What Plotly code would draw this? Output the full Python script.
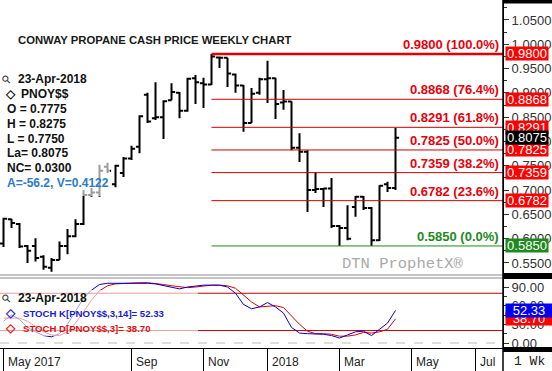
import pandas as pd
import plotly.graph_objects as go

# ---------------- data ----------------
dates = pd.date_range("2017-05-15", "2018-04-23", freq="7D")
opens = [.590, .640, .630, .585, .585, .563, .540, .556, .585, .605,
         .630, .690, .695, .748, .712, .735, .765, .789, .896, .848,
         .850, .885, .900, .863, .930, .920, .917, .973, .972, .938,
         .915, .838, .900, .928, .930, .880, .882, .787, .779, .700,
         .702, .703, .626, .622, .665, .686, .663, .597, .712, .704]
highs = [.643, .641, .632, .587, .601, .566, .560, .594, .620, .640,
         .700, .704, .752, .756, .752, .768, .791, .854, .900, .922,
         .885, .920, .902, .931, .937, .931, .980, .975, .972, .940,
         .916, .910, .931, .966, .931, .906, .883, .817, .782, .737,
         .704, .725, .628, .669, .688, .688, .665, .710, .717, .8275]
lows = [.583, .622, .581, .550, .553, .536, .532, .556, .568, .603,
        .628, .686, .686, .735, .706, .727, .762, .776, .838, .844,
        .805, .885, .848, .861, .877, .869, .916, .951, .912, .900,
        .820, .838, .896, .879, .846, .865, .782, .758, .655, .694,
        .665, .622, .585, .597, .645, .659, .585, .595, .696, .700]
closes = [.641, .632, .584, .575, .560, .542, .556, .585, .605, .630,
          .690, .695, .740, .740, .750, .765, .785, .852, .841, .850,
          .883, .902, .863, .929, .922, .917, .975, .972, .940, .915,
          .838, .898, .928, .930, .877, .882, .787, .779, .700, .702,
          .703, .626, .622, .600, .686, .663, .597, .709, .704, .8075]
stoch_k = [35, 45, 38, 25, 18, 12, 10, 15, 30, 50,
           72, 85, 94, 96, 96, 97, 97, 97, 96, 95,
           92, 90, 87, 90, 92, 93, 93, 93, 90, 80,
           62, 55, 58, 65, 58, 48, 25, 16, 15, 15,
           14, 12, 8, 13, 18, 19, 12, 22, 32, 52.33]
stoch_d = [40, 40, 40, 35, 27, 18, 13, 12, 18, 32,
           50, 69, 84, 92, 95, 96, 97, 97, 97, 96,
           94, 92, 90, 89, 90, 92, 93, 93, 92, 88,
           77, 66, 58, 59, 60, 57, 44, 30, 19, 15,
           15, 14, 11, 11, 13, 17, 16, 18, 22, 38.70]

fib_levels = [0.9800, 0.8868, 0.8291, 0.7825, 0.7359, 0.6782, 0.5850]
fib_pcts = ["100.0%", "76.4%", "61.8%", "50.0%", "38.2%", "23.6%", "0.0%"]
fib_start = "2017-11-13"
last_price = 0.8075
stoch_levels = [80, 20]

price_ticks = [0.55, 0.60, 0.65, 0.70, 0.75, 0.80, 0.85, 0.90, 0.95, 1.00, 1.05]
stoch_ticks = [0, 30, 60, 90]
month_ticks = ["2017-05-15", "2017-09-04", "2017-11-06", "2018-01-01",
               "2018-03-05", "2018-05-07", "2018-07-02"]
month_labels = ["May 2017", "Sep", "Nov", "2018", "Mar", "May", "Jul"]

legend_lines = ["O = 0.7775", "H = 0.8275", "L = 0.7750", "La= 0.8075", "NC= 0.0300"]
legend_date = "23-Apr-2018"
symbol = "PNOY$$"
k_label = "STOCH K[PNOY$$,3,14]= 52.33"
d_label = "STOCH D[PNOY$$,3]= 38.70"

# ---------------- layout helpers ----------------
W, H = 552, 371
PW = 503          # plot width (px)
TOP, BOT = 3, 348  # plot area top/bottom (px)
PH = BOT - TOP

def ax(xp):
    return xp / PW

def ay(yp):
    return (BOT - yp) / PH

last = dates[-1]
x_start = last - pd.Timedelta(days=395.5 * 7 / 8)
x_end = last + pd.Timedelta(days=(PW - 395.5) * 7 / 8)

FONT = "Liberation Sans, Arial, sans-serif"
RED = "#e8000b"
GREEN = "#1e8a1e"

fig = go.Figure()

fig.add_trace(go.Ohlc(
    x=dates, open=opens, high=highs, low=lows, close=closes,
    increasing=dict(line=dict(color="black", width=2)),
    decreasing=dict(line=dict(color="black", width=2)),
    tickwidth=0.45, xaxis="x", yaxis="y", showlegend=False, hoverinfo="skip"))

for lvl in fib_levels:
    col = GREEN if lvl == fib_levels[-1] else ("#e00000" if lvl == fib_levels[0] else "#cc0000")
    w = 2.5 if lvl == fib_levels[0] else 1
    fig.add_trace(go.Scatter(x=[pd.Timestamp(fib_start), x_end], y=[lvl, lvl], mode="lines",
                             line=dict(color=col, width=w), xaxis="x", yaxis="y",
                             showlegend=False, hoverinfo="skip"))

for lv in stoch_levels:
    fig.add_trace(go.Scatter(x=[x_start, x_end], y=[lv, lv], mode="lines",
                             line=dict(color="#c00000", width=1), xaxis="x2", yaxis="y2",
                             showlegend=False, hoverinfo="skip"))
fig.add_trace(go.Scatter(x=[x_start, x_end], y=[0, 0], mode="lines",
                         line=dict(color="#bbbbbb", width=1, dash="dash"), xaxis="x2", yaxis="y2",
                         showlegend=False, hoverinfo="skip"))
fig.add_trace(go.Scatter(x=dates, y=stoch_d, mode="lines", line=dict(color="#e00000", width=1),
                         xaxis="x2", yaxis="y2", showlegend=False, hoverinfo="skip"))
fig.add_trace(go.Scatter(x=dates, y=stoch_k, mode="lines", line=dict(color="#0000cc", width=1),
                         xaxis="x2", yaxis="y2", showlegend=False, hoverinfo="skip"))

ann = []

def txt(x, y, s, size=12, color="#111", bold=True, xanchor="left", family=FONT, **kw):
    if bold:
        s = "<b>" + s + "</b>"
    d = dict(x=ax(x), y=ay(y), xref="paper", yref="paper", text=s, showarrow=False,
             xanchor=xanchor, yanchor="middle", font=dict(size=size, color=color, family=family))
    d.update(kw)
    ann.append(d)

# title
txt(16, 40, "CONWAY PROPANE CASH PRICE WEEKLY CHART", size=11.3, color="#1a1a1a")
# main legend
txt(6, 79, "⚲", size=11, color="#333", bold=False, xanchor="center", textangle=-45)
txt(16, 79, legend_date)
txt(10, 94, "◇", size=12, color="#111", bold=True, xanchor="center")
txt(19, 94, symbol)
for i, s in enumerate(legend_lines):
    txt(5, 109 + i * 14.8, s)
txt(5, 183, "A=-56.2, V=0.4122", color="#2a7cc7")
# lower legend
txt(6, 298, "⚲", size=11, color="#333", bold=False, xanchor="center", textangle=-45)
txt(16, 298, legend_date)
txt(10, 313, "◇", color="#1a1ad0", xanchor="center")
txt(21, 313, k_label, color="#1a1ad0", size=9.6, bold=True)
txt(10, 328, "◇", color="#e01010", xanchor="center")
txt(21, 328, d_label, color="#e01010", size=9.6, bold=True)
# watermark
txt(466, 264, "DTN ProphetX®", size=15.5, color="#a9a9a9", bold=False, xanchor="right",
    family="Liberation Mono, Courier New, monospace")
# 1 Wk
txt(529, 362, "1 Wk", size=13, color="#222", bold=False, xanchor="center",
    family="Liberation Mono, Courier New, monospace")

# month labels
for d, lab in zip(month_ticks, month_labels):
    ann.append(dict(x=d, xref="x2", y=ay(362), yref="paper", text=lab, showarrow=False,
                    xanchor="left", yanchor="middle", xshift=2,
                    font=dict(size=12, color="#222", family=FONT)))

# fib labels
for lvl, pct in zip(fib_levels, fib_pcts):
    col = GREEN if lvl == fib_levels[-1] else RED
    ann.append(dict(x=ax(501), xref="paper", y=lvl, yref="y", text=f"<b>{lvl:.4f} ({pct})</b>",
                    showarrow=False, xanchor="right", yanchor="bottom", yshift=0,
                    font=dict(size=13, color=col, family=FONT)))

# right-axis value boxes
for lvl in fib_levels:
    col = "#1e8a1e" if lvl == fib_levels[-1] else "#ff0000"
    ann.append(dict(x=ax(505), xref="paper", y=lvl, yref="y", text=f"{lvl:.4f}",
                    showarrow=False, xanchor="left", yanchor="middle", width=42, height=13,
                    bgcolor=col, borderpad=0, font=dict(size=13, color="white", family=FONT)))
ann.append(dict(x=ax(505), xref="paper", y=last_price, yref="y", text=f"{last_price:.4f}",
                showarrow=False, xanchor="left", yanchor="middle", width=42, height=13,
                bgcolor="black", borderpad=0, font=dict(size=13, color="white", family=FONT)))
ann.append(dict(x=ax(505), xref="paper", y=stoch_d[-1], yref="y2", text=f"{stoch_d[-1]:.2f}",
                showarrow=False, xanchor="left", yanchor="middle", width=46, height=13,
                bgcolor="#ff0000", borderpad=0, font=dict(size=13, color="white", family=FONT)))
ann.append(dict(x=ax(505), xref="paper", y=stoch_k[-1], yref="y2", text=f"{stoch_k[-1]:.2f}",
                showarrow=False, xanchor="left", yanchor="middle", width=46, height=13,
                bgcolor="#0000ee", borderpad=0, font=dict(size=13, color="white", family=FONT)))

shapes = [
    # legend backgrounds
    dict(type="rect", xref="paper", yref="paper", x0=0, x1=ax(110), y0=ay(196), y1=ay(70),
         fillcolor="rgba(255,255,255,0.62)", line=dict(width=0), layer="above"),
    dict(type="rect", xref="paper", yref="paper", x0=0, x1=ax(198), y0=ay(336), y1=ay(290),
         fillcolor="rgba(255,255,255,0.62)", line=dict(width=0), layer="above"),
    # panel separator double line
    dict(type="line", xref="paper", yref="paper", x0=0, x1=1, y0=ay(275), y1=ay(275),
         line=dict(color="#888", width=1)),
    dict(type="line", xref="paper", yref="paper", x0=0, x1=1, y0=ay(278), y1=ay(278),
         line=dict(color="#888", width=1)),
    # black bars in right strip
    dict(type="rect", xref="paper", yref="paper", x0=1, x1=ax(552), y0=ay(3.5), y1=ay(0),
         fillcolor="black", line=dict(width=0)),
    dict(type="rect", xref="paper", yref="paper", x0=1, x1=ax(552), y0=ay(279), y1=ay(273),
         fillcolor="black", line=dict(width=0)),
    dict(type="rect", xref="paper", yref="paper", x0=1, x1=ax(552), y0=ay(352), y1=ay(347),
         fillcolor="black", line=dict(width=0)),
    # vertical divider
    dict(type="line", xref="paper", yref="paper", x0=1, x1=1, y0=ay(371), y1=ay(0),
         line=dict(color="black", width=1.5)),
]

axis_font = dict(size=13, color="#333", family=FONT)
fig.update_layout(
    width=W, height=H, margin=dict(l=0, r=W - PW, t=TOP, b=H - BOT),
    paper_bgcolor="white", plot_bgcolor="white", showlegend=False,
    xaxis=dict(range=[x_start, x_end], domain=[0, 1], anchor="y", showticklabels=False,
               ticks="", showgrid=False, zeroline=False, showline=False,
               rangeslider=dict(visible=False)),
    xaxis2=dict(range=[x_start, x_end], domain=[0, 1], anchor="y2", matches="x",
                tickvals=month_ticks, showticklabels=False, ticks="outside", ticklen=H - BOT,
                tickcolor="black", tickwidth=1, showgrid=False, zeroline=False,
                showline=True, linecolor="black", linewidth=1),
    yaxis=dict(domain=[ay(274), 1], range=[0.5273, 1.0849], side="right", anchor="x",
               tickvals=price_ticks, tickformat=".4f", ticks="outside", ticklen=5,
               tickcolor="#333", showline=True, linecolor="black", linewidth=1,
               showgrid=False, zeroline=False, tickfont=axis_font,
               minor=dict(dtick=0.025, tick0=0.525, ticks="outside", ticklen=3, tickcolor="#333")),
    yaxis2=dict(domain=[0, ay(278)], range=[-8.04, 104.5], side="right", anchor="x2",
                tickvals=stoch_ticks, tickformat=".2f", ticks="outside", ticklen=5,
                tickcolor="#333", showline=True, linecolor="black", linewidth=1,
                showgrid=False, zeroline=False, tickfont=axis_font,
                minor=dict(dtick=15, tick0=0, ticks="outside", ticklen=3, tickcolor="#333")),
    annotations=ann, shapes=shapes,
)

fig.write_html("out.html")
